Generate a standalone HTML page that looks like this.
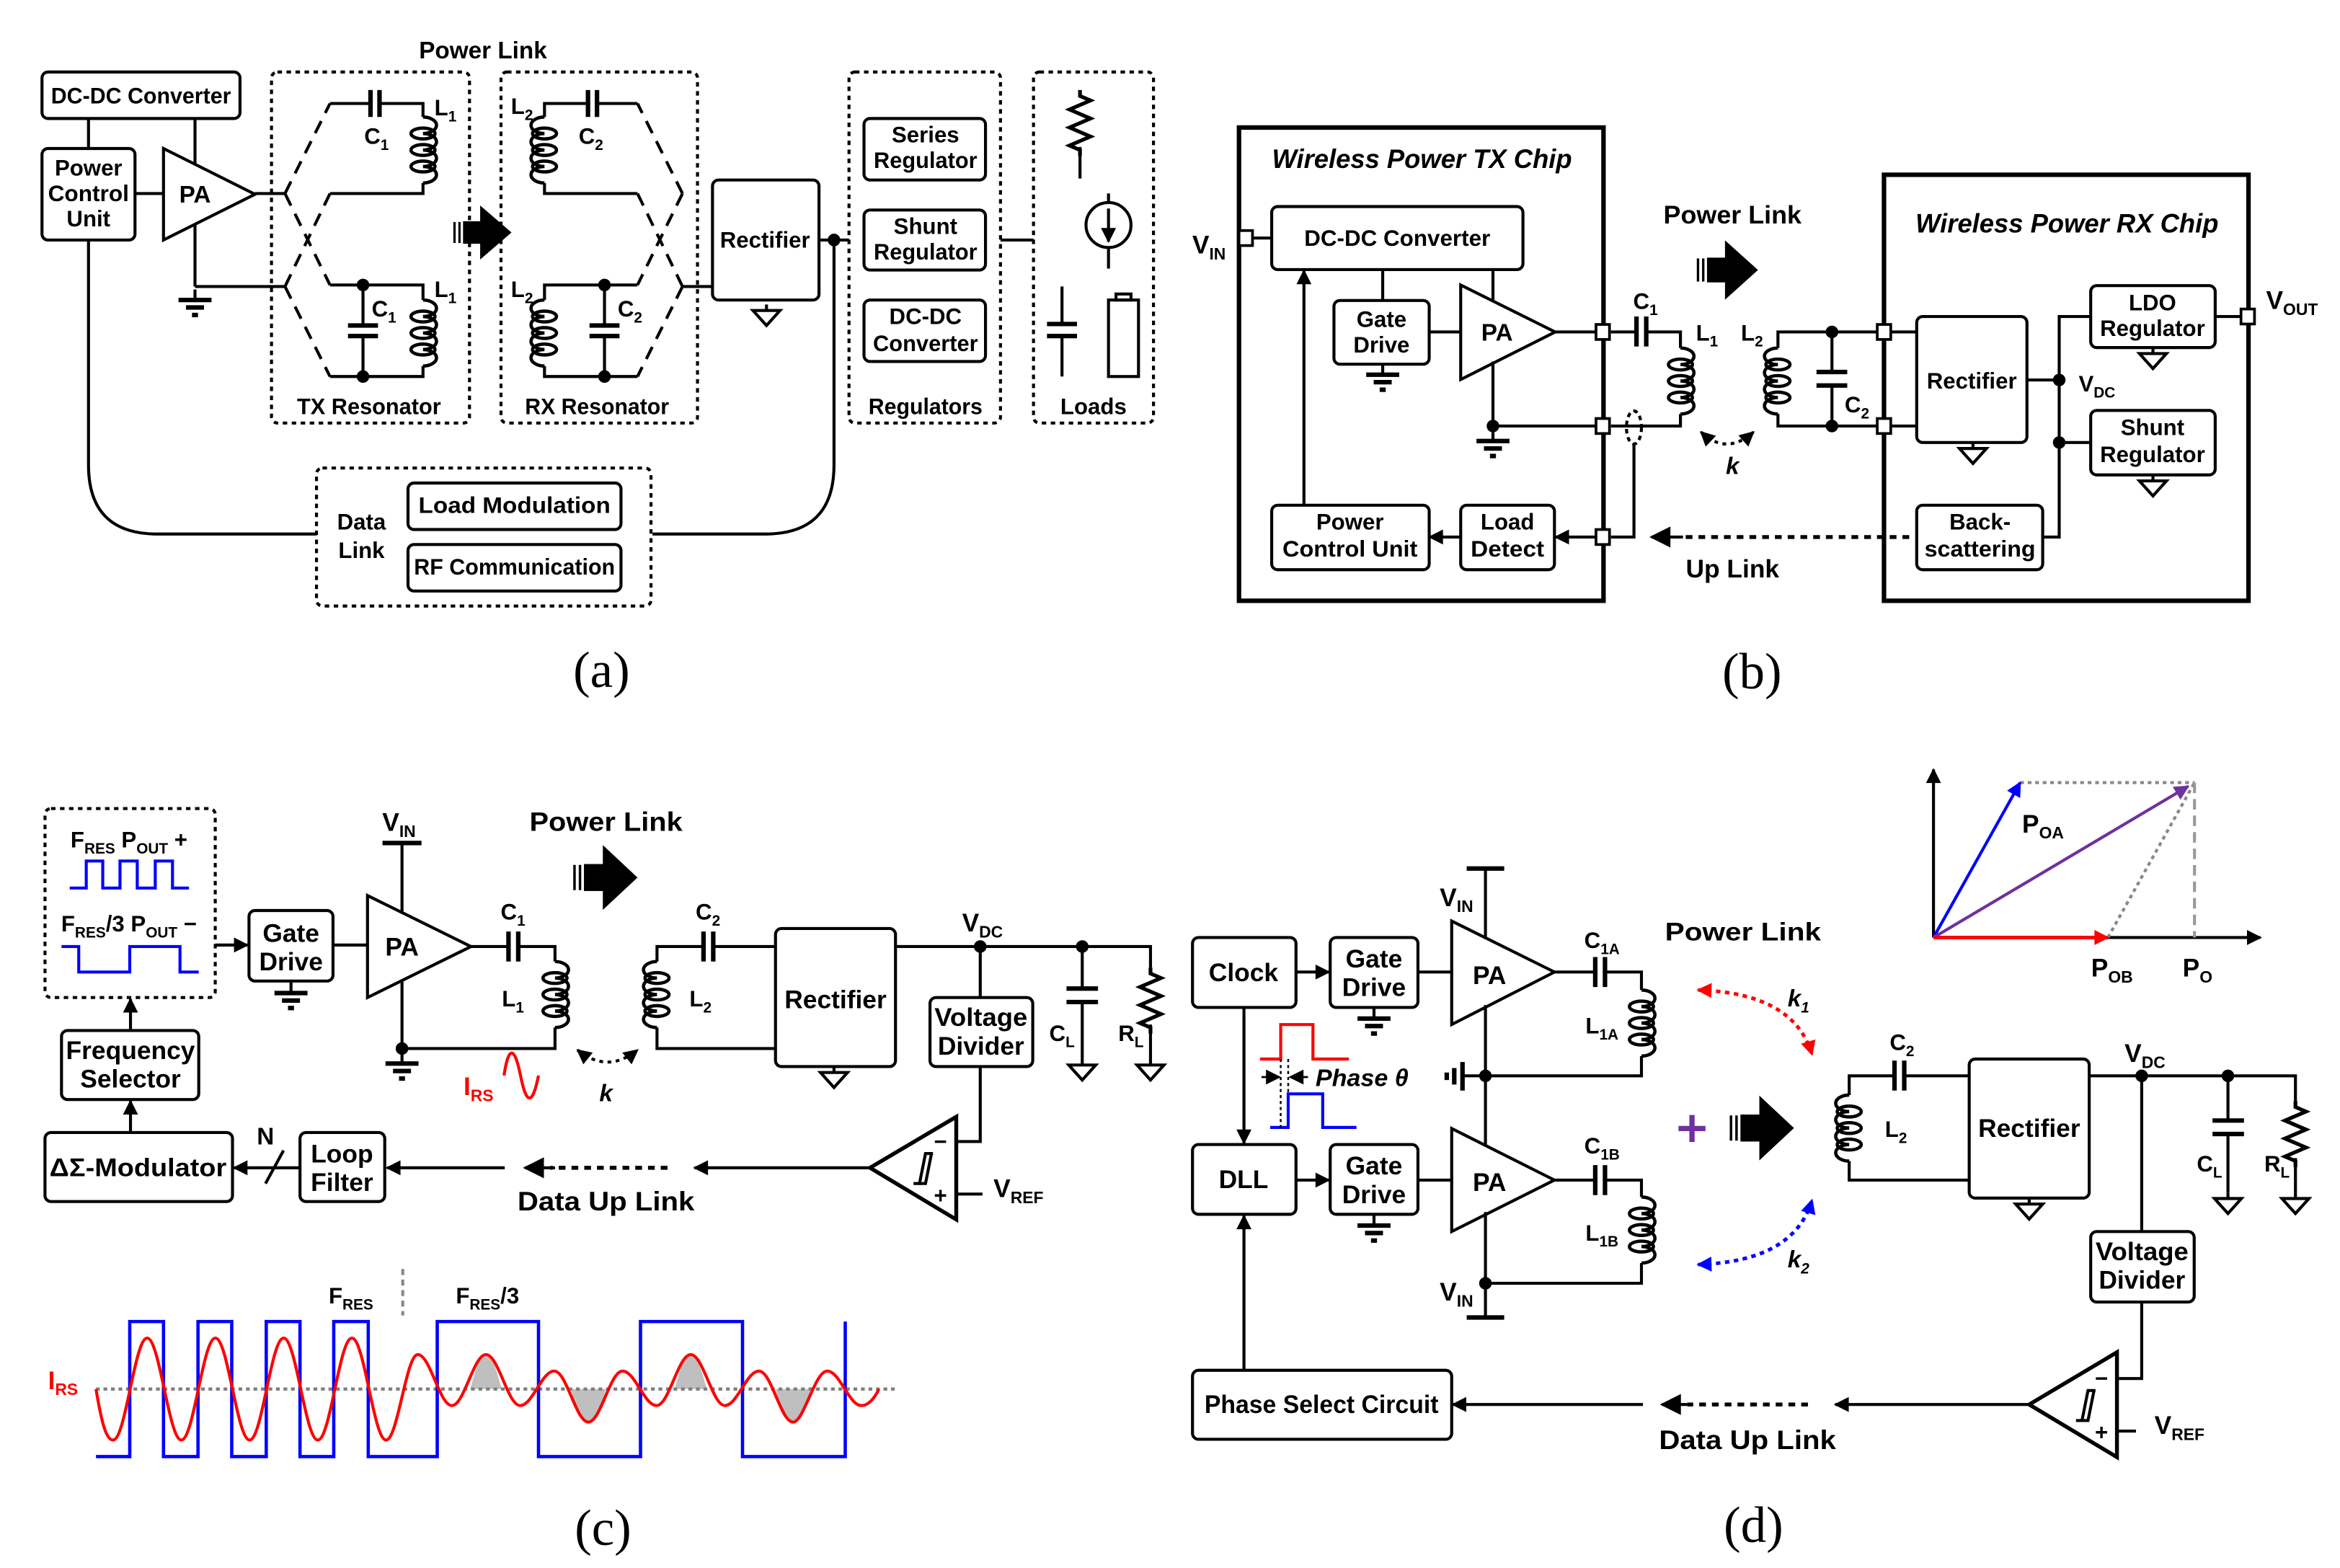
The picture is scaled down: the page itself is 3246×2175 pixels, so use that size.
<!DOCTYPE html>
<html><head><meta charset="utf-8"><style>
html,body{margin:0;padding:0;background:#fff;}
svg{display:block;}
text{font-family:"Liberation Sans",sans-serif;font-weight:bold;fill:#000;text-anchor:middle;}
.s15{font-size:15px}.s16{font-size:16px}.s17{font-size:17px}.s18{font-size:18px}
.it{font-style:italic}
.cap{font-family:"Liberation Serif",serif;font-weight:normal;font-size:34px}
</style></head><body>
<svg width="3246" height="2175" viewBox="0 0 1560 1045.3" preserveAspectRatio="none" xmlns="http://www.w3.org/2000/svg">
<defs>
<marker id="ab" viewBox="0 0 10 10" refX="9" refY="5" markerWidth="11" markerHeight="10" markerUnits="userSpaceOnUse" orient="auto-start-reverse"><path d="M0,0 L10,5 L0,10 z" fill="#000"/></marker>
<marker id="ar" viewBox="0 0 10 10" refX="9" refY="5" markerWidth="11" markerHeight="10" markerUnits="userSpaceOnUse" orient="auto-start-reverse"><path d="M0,0 L10,5 L0,10 z" fill="#f00"/></marker>
<marker id="abl" viewBox="0 0 10 10" refX="9" refY="5" markerWidth="11" markerHeight="10" markerUnits="userSpaceOnUse" orient="auto-start-reverse"><path d="M0,0 L10,5 L0,10 z" fill="#00f"/></marker>
<marker id="ap" viewBox="0 0 10 10" refX="9" refY="5" markerWidth="11" markerHeight="10" markerUnits="userSpaceOnUse" orient="auto-start-reverse"><path d="M0,0 L10,5 L0,10 z" fill="#7030a0"/></marker>
<marker id="ab2" viewBox="0 0 10 10" refX="9" refY="5" markerWidth="16" markerHeight="14" markerUnits="userSpaceOnUse" orient="auto-start-reverse"><path d="M0,0 L10,5 L0,10 z" fill="#000"/></marker>
<g id="coil" fill="none" stroke="#000" stroke-width="2.2">
<path d="M0,0 a9,5.5 0 1 1 0,11 a9,5.5 0 1 1 0,11 a9,5.5 0 1 1 0,11 a9,5.5 0 1 1 0,11"/>
<ellipse cx="0" cy="11" rx="8" ry="3.6"/><ellipse cx="0" cy="22" rx="8" ry="3.6"/><ellipse cx="0" cy="33" rx="8" ry="3.6"/>
</g>
<g id="gnd" stroke="#000" stroke-width="3"><line x1="0" y1="0" x2="0" y2="7" stroke-width="2"/><line x1="-11" y1="7" x2="11" y2="7"/><line x1="-6" y1="12" x2="6" y2="12"/><line x1="-2" y1="17" x2="2" y2="17"/></g>
<g id="tg" stroke="#000" stroke-width="2" fill="#fff"><line x1="0" y1="0" x2="0" y2="4"/><polygon points="-9,4 9,4 0,14"/></g>
<path id="res" d="M0,0 l0,4 l7,3 l-14,6 l14,6 l-14,6 l14,6 l-14,6 l7,3 l0,4" fill="none" stroke="#000" stroke-width="2.5"/>
<g id="big"><line x1="-20" y1="-7" x2="-20" y2="7" stroke="#000" stroke-width="1.6"/><line x1="-16.5" y1="-7" x2="-16.5" y2="7" stroke="#000" stroke-width="1.6"/><rect x="-14" y="-7.5" width="13" height="15" fill="#000"/><polygon points="-2,-18 20,0 -2,18" fill="#000"/></g>
<g id="hys" fill="none" stroke="#000" stroke-width="2"><path d="M-9,10 h4 l4,-20 h5"/><path d="M-5,10 h4 l4,-20"/></g>
</defs>

<g fill="none" stroke="#000" stroke-width="2">
<!-- ============ PANEL A ============ -->
<rect x="28" y="48" width="132" height="31" rx="4"/>
<rect x="28" y="99" width="62" height="61" rx="4"/>
<line x1="59" y1="79" x2="59" y2="99"/>
<line x1="130" y1="79" x2="130" y2="109"/>
<line x1="90" y1="129" x2="109" y2="129"/>
<polygon points="109,99 109,160 170,129.5" fill="#fff"/>
<line x1="130" y1="150" x2="130" y2="191"/>
<use href="#gnd" x="130" y="193"/>
<line x1="130" y1="191" x2="190" y2="191"/>
<line x1="170" y1="129" x2="190" y2="129"/>
<g id="txres">
<g stroke-dasharray="9 6"><line x1="190" y1="129" x2="220" y2="69"/><line x1="190" y1="129" x2="220" y2="190"/><line x1="190" y1="191" x2="220" y2="129"/><line x1="190" y1="191" x2="220" y2="251"/></g>
<polyline points="220,69 247,69"/><line x1="247" y1="60" x2="247" y2="78" stroke-width="3"/><line x1="253" y1="60" x2="253" y2="78" stroke-width="3"/>
<polyline points="253,69 282,69 282,78"/><use href="#coil" x="282" y="78"/><polyline points="282,122 282,129 220,129"/>
<polyline points="220,190 282,190 282,200"/><use href="#coil" x="282" y="200"/><polyline points="282,244 282,251 220,251"/>
<line x1="242" y1="190" x2="242" y2="217"/><line x1="232" y1="217" x2="252" y2="217" stroke-width="3"/><line x1="232" y1="224" x2="252" y2="224" stroke-width="3"/><line x1="242" y1="224" x2="242" y2="251"/>
<circle cx="242" cy="190" r="3.2" fill="#000"/><circle cx="242" cy="251" r="3.2" fill="#000"/>
</g>
<use href="#txres" transform="translate(645,0) scale(-1,1)"/>
<line x1="190" y1="191" x2="170" y2="191" transform="translate(645,0) scale(-1,1)"/>
<rect x="181" y="48" width="132" height="234" rx="4" stroke-dasharray="3 3"/>
<rect x="334" y="48" width="131" height="234" rx="4" stroke-dasharray="3 3"/>
<rect x="475" y="120" width="71" height="80" rx="4"/>
<use href="#tg" x="511" y="203"/>
<line x1="546" y1="160" x2="566" y2="160"/>
<circle cx="556" cy="160" r="3.2" fill="#000"/>
<path d="M556,160 V310 Q556,356 510,356 H435"/>
<path d="M59,160 V310 Q59,356 105,356 H211"/>
<rect x="211" y="312" width="223" height="92" rx="4" stroke-dasharray="3 3"/>
<rect x="272" y="322" width="142" height="31" rx="4"/>
<rect x="272" y="363" width="142" height="31" rx="4"/>
<rect x="566" y="48" width="101" height="234" rx="4" stroke-dasharray="3 3"/>
<rect x="576" y="79" width="81" height="41" rx="4"/>
<rect x="576" y="140" width="81" height="40" rx="4"/>
<rect x="576" y="200" width="81" height="41" rx="4"/>
<line x1="667" y1="160" x2="689" y2="160"/>
<rect x="689" y="48" width="80" height="234" rx="4" stroke-dasharray="3 3"/>
<use href="#res" x="720" y="60"/>
<line x1="720" y1="98" x2="720" y2="119"/>
<line x1="739" y1="129" x2="739" y2="179"/>
<circle cx="739" cy="150" r="15" fill="#fff"/>
<line x1="739" y1="139" x2="739" y2="161" marker-end="url(#ab)"/>
<line x1="708" y1="191" x2="708" y2="216"/><line x1="698" y1="216" x2="718" y2="216" stroke-width="3"/><line x1="698" y1="224" x2="718" y2="224" stroke-width="3"/><line x1="708" y1="224" x2="708" y2="251"/>
<rect x="739" y="200" width="20" height="51"/><rect x="744" y="196" width="10" height="4"/>

<!-- ============ PANEL B ============ -->
<rect x="826" y="85" width="243" height="315.5" stroke-width="3"/>
<rect x="1256" y="116.5" width="243" height="284" stroke-width="3"/>
<line x1="830" y1="158.7" x2="848" y2="158.7"/>
<rect x="847.8" y="137.7" width="167.5" height="42" rx="4"/>
<line x1="921.8" y1="179.7" x2="921.8" y2="200.3"/>
<rect x="889.3" y="200.3" width="63.5" height="42.5" rx="4"/>
<use href="#gnd" x="921.8" y="242.8"/>
<line x1="995.3" y1="179.7" x2="995.3" y2="202"/>
<line x1="952.8" y1="221.3" x2="973.8" y2="221.3"/>
<polygon points="973.8,190 973.8,253 1036.8,221.3" fill="#fff"/>
<line x1="995.3" y1="241" x2="995.3" y2="284"/>
<circle cx="995.3" cy="284" r="3.2" fill="#000"/>
<use href="#gnd" x="995.3" y="287"/>
<line x1="995.3" y1="284" x2="1064" y2="284"/>
<line x1="1036.8" y1="221.3" x2="1064" y2="221.3"/>
<line x1="1074" y1="221.3" x2="1091" y2="221.3"/>
<line x1="1091" y1="211" x2="1091" y2="231" stroke-width="3"/><line x1="1097.5" y1="211" x2="1097.5" y2="231" stroke-width="3"/>
<polyline points="1097.5,221.3 1120.3,221.3 1120.3,232"/>
<use href="#coil" x="1120.3" y="232"/>
<polyline points="1120.3,276 1120.3,284 1074,284"/>
<ellipse cx="1089.3" cy="285" rx="5" ry="11" stroke-dasharray="3 2.5"/>
<polyline points="1089.3,296 1089.3,358 1074,358"/>
<line x1="1064" y1="358" x2="1037" y2="358" marker-end="url(#ab)"/>
<rect x="973.8" y="336.8" width="62.5" height="43" rx="4"/>
<line x1="973.8" y1="358" x2="953" y2="358" marker-end="url(#ab)"/>
<rect x="847.8" y="336.8" width="105" height="43" rx="4"/>
<line x1="869.3" y1="336.8" x2="869.3" y2="180.5" marker-end="url(#ab)"/>
<rect x="826" y="153.7" width="9" height="10" fill="#fff" stroke-width="1.8"/>
<rect x="1064" y="216.3" width="9" height="10" fill="#fff" stroke-width="1.8"/>
<rect x="1064" y="279" width="9" height="10" fill="#fff" stroke-width="1.8"/>
<rect x="1064" y="353" width="9" height="10" fill="#fff" stroke-width="1.8"/>
<path d="M1134,288 Q1151,304 1169,288" stroke-dasharray="2.5 3" marker-start="url(#ab)" marker-end="url(#ab)"/>
<line x1="1272.8" y1="358" x2="1120" y2="358" stroke-width="2.6" stroke-dasharray="4.5 4"/>
<line x1="1122" y1="358" x2="1101" y2="358" marker-end="url(#ab2)"/>
<polyline points="1252,221.3 1185.3,221.3 1185.3,232"/>
<use href="#coil" transform="translate(1185.3,232) scale(-1,1)"/>
<polyline points="1185.3,276 1185.3,284 1252,284"/>
<line x1="1221.3" y1="221.3" x2="1221.3" y2="248"/><line x1="1211" y1="248" x2="1231.5" y2="248" stroke-width="3"/><line x1="1211" y1="257" x2="1231.5" y2="257" stroke-width="3"/><line x1="1221.3" y1="257" x2="1221.3" y2="284"/>
<circle cx="1221.3" cy="221.3" r="3.2" fill="#000"/><circle cx="1221.3" cy="284" r="3.2" fill="#000"/>
<line x1="1261" y1="221.3" x2="1277.8" y2="221.3"/><line x1="1261" y1="284" x2="1277.8" y2="284"/>
<rect x="1251.5" y="216.3" width="9" height="10" fill="#fff" stroke-width="1.8"/>
<rect x="1251.5" y="279" width="9" height="10" fill="#fff" stroke-width="1.8"/>
<rect x="1277.8" y="211" width="73.5" height="84" rx="4"/>
<use href="#tg" x="1315.3" y="295"/>
<line x1="1351.3" y1="253.3" x2="1372.8" y2="253.3"/>
<polyline points="1393.8,211 1372.8,211 1372.8,358 1361.8,358"/>
<circle cx="1372.8" cy="253.3" r="3.2" fill="#000"/><circle cx="1372.8" cy="295" r="3.2" fill="#000"/>
<line x1="1372.8" y1="295" x2="1393.8" y2="295"/>
<rect x="1393.8" y="190.4" width="83" height="41.3" rx="4"/>
<use href="#tg" x="1435.3" y="231.7"/>
<line x1="1476.8" y1="211" x2="1494" y2="211"/>
<rect x="1494" y="206" width="9" height="10" fill="#fff" stroke-width="1.8"/>
<rect x="1393.8" y="273.6" width="83" height="43" rx="4"/>
<use href="#tg" x="1435.3" y="316.6"/>
<rect x="1277.8" y="336.8" width="84" height="43" rx="4"/>

<!-- ============ PANEL C ============ -->
<rect x="30" y="539" width="113.5" height="126" rx="4" stroke-dasharray="3 3"/>
<path d="M46.5,592 H57.5 V574 H68.5 V592 H80 V574 H91.5 V592 H103.5 V574 H115 V592 H126" stroke="#00f"/>
<path d="M41,631 H52.5 V648 H86.5 V631 H120 V648 H132.5" stroke="#00f"/>
<line x1="143.5" y1="630" x2="165" y2="630" marker-end="url(#ab)"/>
<rect x="166" y="607" width="56" height="47" rx="4"/>
<use href="#gnd" x="194" y="655"/>
<line x1="222" y1="630" x2="245" y2="630"/>
<polygon points="245,597 245,665 314,631" fill="#fff"/>
<line x1="268" y1="562" x2="268" y2="608"/>
<line x1="255" y1="562" x2="281" y2="562" stroke-width="3"/>
<line x1="268" y1="654" x2="268" y2="699"/>
<circle cx="268" cy="699" r="3.2" fill="#000"/>
<use href="#gnd" x="268" y="702"/>
<line x1="314" y1="631" x2="339" y2="631"/>
<line x1="339" y1="621" x2="339" y2="641" stroke-width="3"/><line x1="345.5" y1="621" x2="345.5" y2="641" stroke-width="3"/>
<polyline points="345.5,631 370,631 370,641"/>
<use href="#coil" x="370" y="641"/>
<polyline points="370,685 370,699 268,699"/>
<path d="M336,717 C339,697 343,697 347,717 C351,737 355,737 359,717" stroke="#f00"/>
<path d="M385,700 Q405,716 425,700" stroke-dasharray="2.5 3" marker-start="url(#ab)" marker-end="url(#ab)"/>
<polyline points="517,631 475,631"/>
<line x1="469" y1="621" x2="469" y2="641" stroke-width="3"/><line x1="475.5" y1="621" x2="475.5" y2="641" stroke-width="3"/>
<polyline points="469,631 438,631 438,641"/>
<use href="#coil" transform="translate(438,641) scale(-1,1)"/>
<polyline points="438,685 438,699 517,699"/>
<rect x="517" y="619" width="80" height="92" rx="4"/>
<use href="#tg" x="556" y="711"/>
<polyline points="597,631 767,631 767,645"/>
<circle cx="653.5" cy="631" r="3.2" fill="#000"/><circle cx="721.5" cy="631" r="3.2" fill="#000"/>
<line x1="653.5" y1="631" x2="653.5" y2="665"/>
<rect x="620" y="665" width="68.5" height="46" rx="4"/>
<polyline points="653.5,711 653.5,761 637.5,761"/>
<line x1="721.5" y1="631" x2="721.5" y2="659"/><line x1="711" y1="659" x2="732" y2="659" stroke-width="3"/><line x1="711" y1="668" x2="732" y2="668" stroke-width="3"/><line x1="721.5" y1="668" x2="721.5" y2="706"/>
<use href="#tg" x="721.5" y="706"/>
<use href="#res" x="767" y="645"/>
<line x1="767" y1="683" x2="767" y2="706"/>
<use href="#tg" x="767" y="706"/>
<polygon points="637.5,744.5 637.5,813 580,778.5" fill="#fff" stroke-width="2.6"/>
<use href="#hys" x="618" y="779"/>
<line x1="637.5" y1="796" x2="655" y2="796"/>
<line x1="580" y1="778.5" x2="463" y2="778.5" marker-end="url(#ab)"/>
<line x1="445" y1="778.5" x2="367" y2="778.5" stroke-width="2.6" stroke-dasharray="4.5 4"/>
<line x1="370" y1="778.5" x2="350" y2="778.5" marker-end="url(#ab2)"/>
<line x1="336.5" y1="778.5" x2="258" y2="778.5" marker-end="url(#ab)"/>
<rect x="200" y="755" width="56.5" height="46" rx="4"/>
<line x1="200" y1="778.5" x2="156" y2="778.5" marker-end="url(#ab)"/>
<line x1="177" y1="789" x2="189" y2="767"/>
<rect x="30" y="755" width="125" height="46" rx="4"/>
<line x1="87" y1="755" x2="87" y2="734" marker-end="url(#ab)"/>
<rect x="41" y="687" width="91.5" height="46" rx="4"/>
<line x1="87" y1="687" x2="87" y2="666" marker-end="url(#ab)"/>
<!-- waveform -->
<line x1="268.5" y1="846" x2="268.5" y2="877" stroke="#888" stroke-dasharray="4 3"/>
<path d="M313.5,926 C318,910 320,903 324,903 C328,903 330,910 334.5,926 Z M449.8,926 C454.3,910 456.3,903 460.5,903 C464.7,903 466.7,910 471.2,926 Z M380.5,926 C385,942 388,948 392.25,948 C396.5,948 399.5,942 404,926 Z M517,926 C521.5,942 524.5,948 528.75,948 C533,948 536,942 540.5,926 Z" fill="#bfbfbf" stroke="none"/>
<line x1="64" y1="926" x2="597" y2="926" stroke="#808080" stroke-width="2.2" stroke-dasharray="2.5 2.5"/>
<path d="M64,971 H86.5 V881 H109 V971 H132 V881 H154.5 V971 H177.5 V881 H200 V971 H222.5 V881 H245.5 V971 H291.5 V881 H359 V971 H427 V881 H495 V971 H563.5 V881" stroke="#00f" stroke-width="2.2"/>
<path d="M64,926 C68,950 71,960 75.4,960 C83.7,960 89.8,892 98.1,892 C106.4,892 112.6,960 120.9,960 C129.2,960 135.3,892 143.6,892 C151.9,892 158.1,960 166.4,960 C174.7,960 180.8,892 189.1,892 C197.4,892 203.6,960 211.9,960 C220.2,960 226.3,892 234.6,892 C242.9,892 249.1,960 257.4,960 C265.1,960 270.8,903 278.5,903 C286.8,903 293,937 301.25,937 C309.5,937 315.7,903 324,903 C332.3,903 338.5,937 346.75,937 C355,937 361.2,914 369.5,914 C377.8,914 384,948 392.25,948 C400.5,948 406.7,914 415,914 C423.3,914 429.5,937 437.75,937 C446,937 452.2,903 460.5,903 C468.8,903 475,937 483.25,937 C491.5,937 497.7,914 506,914 C514.3,914 520.5,948 528.75,948 C536,948 543.2,914 551.5,914 C559.8,914 566,937 574.25,937 C579,937 583,932 586,926" stroke="#f00" stroke-width="2"/>

<!-- ============ PANEL D ============ -->
<line x1="1289" y1="625" x2="1289" y2="513" marker-end="url(#ab)"/>
<line x1="1289" y1="625" x2="1507" y2="625" marker-end="url(#ab)"/>
<line x1="1346.8" y1="521.7" x2="1463" y2="521.7" stroke="#888" stroke-dasharray="2.5 2.5"/>
<line x1="1405.3" y1="625" x2="1463" y2="521.7" stroke="#888" stroke-dasharray="2.5 2.5"/>
<line x1="1463" y1="521.7" x2="1463" y2="625" stroke="#999" stroke-dasharray="7 4"/>
<line x1="1289" y1="625" x2="1346.8" y2="521.7" stroke="#00f" marker-end="url(#abl)"/>
<line x1="1289" y1="625" x2="1458.8" y2="524.2" stroke="#7030a0" marker-end="url(#ap)"/>
<line x1="1289" y1="625" x2="1405.3" y2="625" stroke="#f00" stroke-width="2.4" marker-end="url(#ar)"/>
<rect x="795" y="625" width="69" height="46.6" rx="4"/>
<line x1="864" y1="648" x2="886" y2="648" marker-end="url(#ab)"/>
<rect x="886.8" y="625" width="58.5" height="46.6" rx="4"/>
<use href="#gnd" x="916" y="672"/>
<line x1="945.3" y1="648" x2="967.8" y2="648"/>
<polygon points="967.8,614 967.8,683 1036.3,648" fill="#fff"/>
<line x1="990.3" y1="579" x2="990.3" y2="626"/>
<line x1="977.8" y1="579" x2="1002.8" y2="579" stroke-width="3"/>
<line x1="1036.3" y1="648" x2="1063.5" y2="648"/>
<line x1="1063.5" y1="638" x2="1063.5" y2="658" stroke-width="3"/><line x1="1070" y1="638" x2="1070" y2="658" stroke-width="3"/>
<polyline points="1070,648 1094.3,648 1094.3,660"/>
<use href="#coil" x="1094.3" y="660"/>
<polyline points="1094.3,704 1094.3,717.2 990.3,717.2"/>
<circle cx="990.3" cy="717.2" r="3.2" fill="#000"/>
<line x1="975" y1="717.2" x2="990.3" y2="717.2"/>
<line x1="975" y1="708" x2="975" y2="727" stroke-width="3"/><line x1="969.5" y1="712" x2="969.5" y2="723" stroke-width="3"/><line x1="964.5" y1="715" x2="964.5" y2="720" stroke-width="3"/>
<line x1="990.3" y1="670" x2="990.3" y2="764"/>
<line x1="829.3" y1="671.6" x2="829.3" y2="762" marker-end="url(#ab)"/>
<rect x="795" y="763" width="69" height="46.5" rx="4"/>
<line x1="864" y1="786.7" x2="886" y2="786.7" marker-end="url(#ab)"/>
<rect x="886.8" y="763" width="58.5" height="46.5" rx="4"/>
<use href="#gnd" x="916" y="810"/>
<line x1="945.3" y1="786.7" x2="967.8" y2="786.7"/>
<polygon points="967.8,752.3 967.8,821 1036.3,786.7" fill="#fff"/>
<line x1="990.3" y1="808" x2="990.3" y2="878.3"/>
<line x1="977.8" y1="878.3" x2="1002.8" y2="878.3" stroke-width="3"/>
<line x1="1036.3" y1="786.7" x2="1063.5" y2="786.7"/>
<line x1="1063.5" y1="776.7" x2="1063.5" y2="796.7" stroke-width="3"/><line x1="1070" y1="776.7" x2="1070" y2="796.7" stroke-width="3"/>
<polyline points="1070,786.7 1094.3,786.7 1094.3,798"/>
<use href="#coil" x="1094.3" y="798"/>
<polyline points="1094.3,842 1094.3,855.5 990.3,855.5"/>
<circle cx="990.3" cy="855.5" r="3.2" fill="#000"/>
<line x1="829.3" y1="913.5" x2="829.3" y2="810.5" marker-end="url(#ab)"/>
<rect x="795" y="913.5" width="172.8" height="46" rx="4"/>
<path d="M840,706 H853.8 V683 H875.3 V706 H899.3" stroke="#f00"/>
<path d="M846.8,751.6 H858.8 V729.2 H881.8 V751.6 H904.3" stroke="#00f"/>
<line x1="853.8" y1="706" x2="853.8" y2="752" stroke-width="1.2" stroke-dasharray="2 2"/>
<line x1="858.8" y1="706" x2="858.8" y2="730" stroke-width="1.2" stroke-dasharray="2 2"/>
<line x1="841" y1="718" x2="853" y2="718" stroke-width="1.3" marker-end="url(#ab)"/>
<line x1="872" y1="718" x2="860" y2="718" stroke-width="1.3" marker-end="url(#ab)"/>
<path d="M1132,660 Q1196,662 1208,703" stroke="#f00" stroke-width="2.4" stroke-dasharray="3 3" marker-start="url(#ar)" marker-end="url(#ar)"/>
<path d="M1132,843 Q1196,841 1208,800" stroke="#00f" stroke-width="2.4" stroke-dasharray="3 3" marker-start="url(#abl)" marker-end="url(#abl)"/>
<line x1="1119" y1="752.3" x2="1137" y2="752.3" stroke="#7030a0" stroke-width="3.5"/>
<line x1="1128" y1="743.3" x2="1128" y2="761.3" stroke="#7030a0" stroke-width="3.5"/>
<polyline points="1312.8,717.2 1269.5,717.2"/>
<line x1="1263" y1="707" x2="1263" y2="727" stroke-width="3"/><line x1="1269.5" y1="707" x2="1269.5" y2="727" stroke-width="3"/>
<polyline points="1263,717.2 1232.8,717.2 1232.8,730"/>
<use href="#coil" transform="translate(1232.8,730) scale(-1,1)"/>
<polyline points="1232.8,774 1232.8,786.7 1312.8,786.7"/>
<rect x="1312.8" y="706" width="80" height="92.7" rx="4"/>
<use href="#tg" x="1352.8" y="798.7"/>
<polyline points="1392.8,717.2 1530.3,717.2 1530.3,734"/>
<circle cx="1427.8" cy="717.2" r="3.2" fill="#000"/><circle cx="1485.3" cy="717.2" r="3.2" fill="#000"/>
<line x1="1485.3" y1="717.2" x2="1485.3" y2="747"/><line x1="1475" y1="747" x2="1496" y2="747" stroke-width="3"/><line x1="1475" y1="756" x2="1496" y2="756" stroke-width="3"/><line x1="1485.3" y1="756" x2="1485.3" y2="795"/>
<use href="#tg" x="1485.3" y="795"/>
<use href="#res" x="1530.3" y="734"/>
<line x1="1530.3" y1="772" x2="1530.3" y2="795"/>
<use href="#tg" x="1530.3" y="795"/>
<line x1="1427.8" y1="717.2" x2="1427.8" y2="821"/>
<rect x="1393.8" y="821" width="69" height="47" rx="4"/>
<polyline points="1427.8,868 1427.8,919 1411.3,919"/>
<polygon points="1411.3,901.5 1411.3,971.4 1352.8,936.3" fill="#fff" stroke-width="2.6"/>
<use href="#hys" x="1393" y="937"/>
<line x1="1411.3" y1="954" x2="1424" y2="954"/>
<line x1="1352.8" y1="936.3" x2="1223.5" y2="936.3" marker-end="url(#ab)"/>
<line x1="1205.3" y1="936.3" x2="1125" y2="936.3" stroke-width="2.6" stroke-dasharray="4.5 4"/>
<line x1="1128" y1="936.3" x2="1108" y2="936.3" marker-end="url(#ab2)"/>
<line x1="1095.3" y1="936.3" x2="968.5" y2="936.3" marker-end="url(#ab)"/>
</g>

<!-- big arrows -->
<use href="#big" transform="translate(322,155) scale(0.95,1)"/>
<use href="#big" transform="translate(1152,180) scale(1.0,1.1)"/>
<use href="#big" transform="translate(404,585) scale(1.05,1.2)"/>
<use href="#big" transform="translate(1175,752) scale(1.05,1.2)"/>

<!-- ============ TEXT A ============ -->
<text class="s16" x="322" y="39">Power Link</text>
<text class="s15" x="94" y="69" textLength="120" lengthAdjust="spacingAndGlyphs">DC-DC Converter</text>
<text class="s15" x="59" y="117">Power</text>
<text class="s15" x="59" y="134" textLength="54" lengthAdjust="spacingAndGlyphs">Control</text>
<text class="s15" x="59" y="151">Unit</text>
<text class="s16" x="130" y="135">PA</text>
<text class="s15" x="251" y="96">C<tspan font-size="10" dy="4">1</tspan></text>
<text class="s15" x="297" y="77">L<tspan font-size="10" dy="4">1</tspan></text>
<text class="s15" x="256" y="211">C<tspan font-size="10" dy="4">1</tspan></text>
<text class="s15" x="297" y="198">L<tspan font-size="10" dy="4">1</tspan></text>
<text class="s15" x="348" y="76">L<tspan font-size="10" dy="4">2</tspan></text>
<text class="s15" x="394" y="96">C<tspan font-size="10" dy="4">2</tspan></text>
<text class="s15" x="348" y="198">L<tspan font-size="10" dy="4">2</tspan></text>
<text class="s15" x="420" y="211">C<tspan font-size="10" dy="4">2</tspan></text>
<text class="s15" x="246" y="276" textLength="96" lengthAdjust="spacingAndGlyphs">TX Resonator</text>
<text class="s15" x="398" y="276" textLength="96" lengthAdjust="spacingAndGlyphs">RX Resonator</text>
<text class="s15" x="510" y="165" textLength="60" lengthAdjust="spacingAndGlyphs">Rectifier</text>
<text class="s15" x="617" y="95">Series</text>
<text class="s15" x="617" y="112" textLength="69" lengthAdjust="spacingAndGlyphs">Regulator</text>
<text class="s15" x="617" y="156">Shunt</text>
<text class="s15" x="617" y="173" textLength="69" lengthAdjust="spacingAndGlyphs">Regulator</text>
<text class="s15" x="617" y="216">DC-DC</text>
<text class="s15" x="617" y="234" textLength="70" lengthAdjust="spacingAndGlyphs">Converter</text>
<text class="s15" x="617" y="276" textLength="76" lengthAdjust="spacingAndGlyphs">Regulators</text>
<text class="s15" x="729" y="276">Loads</text>
<text class="s15" x="241" y="353">Data</text>
<text class="s15" x="241" y="372">Link</text>
<text class="s15" x="343" y="342" textLength="128" lengthAdjust="spacingAndGlyphs">Load Modulation</text>
<text class="s15" x="343" y="383" textLength="134" lengthAdjust="spacingAndGlyphs">RF Communication</text>
<text class="cap" x="401" y="458">(a)</text>

<!-- ============ TEXT B ============ -->
<text class="s18 it" x="948" y="112" textLength="200" lengthAdjust="spacingAndGlyphs">Wireless Power TX Chip</text>
<text class="s18 it" x="1378" y="155" textLength="202" lengthAdjust="spacingAndGlyphs">Wireless Power RX Chip</text>
<text class="s17" x="806" y="169">V<tspan font-size="11" dy="4">IN</tspan></text>
<text class="s15" x="931.5" y="164" textLength="124" lengthAdjust="spacingAndGlyphs">DC-DC Converter</text>
<text class="s15" x="921" y="218">Gate</text>
<text class="s15" x="921" y="235">Drive</text>
<text class="s16" x="998" y="227">PA</text>
<text class="s15" x="900" y="353">Power</text>
<text class="s15" x="900" y="371" textLength="90" lengthAdjust="spacingAndGlyphs">Control Unit</text>
<text class="s15" x="1005" y="353">Load</text>
<text class="s15" x="1005" y="371" textLength="49" lengthAdjust="spacingAndGlyphs">Detect</text>
<text class="s15" x="1097" y="206">C<tspan font-size="10" dy="4">1</tspan></text>
<text class="s15" x="1138" y="227">L<tspan font-size="10" dy="4">1</tspan></text>
<text class="s15" x="1168" y="227">L<tspan font-size="10" dy="4">2</tspan></text>
<text class="s15" x="1238" y="275">C<tspan font-size="10" dy="4">2</tspan></text>
<text class="s17" x="1155" y="149" textLength="92" lengthAdjust="spacingAndGlyphs">Power Link</text>
<text class="s16 it" x="1155" y="316">k</text>
<text class="s17" x="1155" y="385">Up Link</text>
<text class="s15" x="1314.5" y="259" textLength="60" lengthAdjust="spacingAndGlyphs">Rectifier</text>
<text class="s15" x="1398" y="261">V<tspan font-size="10" dy="4">DC</tspan></text>
<text class="s15" x="1435" y="207">LDO</text>
<text class="s15" x="1435" y="224" textLength="70" lengthAdjust="spacingAndGlyphs">Regulator</text>
<text class="s15" x="1435" y="290">Shunt</text>
<text class="s15" x="1435" y="308" textLength="70" lengthAdjust="spacingAndGlyphs">Regulator</text>
<text class="s15" x="1320" y="353">Back-</text>
<text class="s15" x="1320" y="371" textLength="74" lengthAdjust="spacingAndGlyphs">scattering</text>
<text class="s17" x="1528" y="206">V<tspan font-size="11" dy="4">OUT</tspan></text>
<text class="cap" x="1168" y="459">(b)</text>

<!-- ============ TEXT C ============ -->
<text class="s15" x="86" y="565">F<tspan font-size="10" dy="4">RES</tspan><tspan dy="-4"> P</tspan><tspan font-size="10" dy="4">OUT</tspan><tspan dy="-4"> +</tspan></text>
<text class="s15" x="86" y="621">F<tspan font-size="10" dy="4">RES</tspan><tspan dy="-4">/3 P</tspan><tspan font-size="10" dy="4">OUT</tspan><tspan dy="-4"> −</tspan></text>
<text class="s17" x="194" y="628">Gate</text>
<text class="s17" x="194" y="647">Drive</text>
<text class="s17" x="268" y="637">PA</text>
<text class="s17" x="266" y="554">V<tspan font-size="11" dy="4">IN</tspan></text>
<text class="s18" x="404" y="554" textLength="102" lengthAdjust="spacingAndGlyphs">Power Link</text>
<text class="s15" x="342" y="613">C<tspan font-size="10" dy="4">1</tspan></text>
<text class="s15" x="342" y="671">L<tspan font-size="10" dy="4">1</tspan></text>
<text class="s15" x="472" y="613">C<tspan font-size="10" dy="4">2</tspan></text>
<text class="s15" x="467" y="671">L<tspan font-size="10" dy="4">2</tspan></text>
<text class="s17" x="319" y="730" style="fill:#f00">I<tspan font-size="11" dy="4" style="fill:#f00">RS</tspan></text>
<text class="s16 it" x="404" y="734">k</text>
<text class="s17" x="557" y="672" textLength="68" lengthAdjust="spacingAndGlyphs">Rectifier</text>
<text class="s17" x="655" y="621">V<tspan font-size="11" dy="4">DC</tspan></text>
<text class="s17" x="654" y="684" textLength="62" lengthAdjust="spacingAndGlyphs">Voltage</text>
<text class="s17" x="654" y="703">Divider</text>
<text class="s15" x="708" y="694">C<tspan font-size="10" dy="4">L</tspan></text>
<text class="s15" x="754" y="694">R<tspan font-size="10" dy="4">L</tspan></text>
<text class="s15" x="627" y="766">−</text>
<text class="s15" x="627" y="802">+</text>
<text class="s17" x="679" y="798">V<tspan font-size="11" dy="4">REF</tspan></text>
<text class="s18" x="404" y="807" textLength="118" lengthAdjust="spacingAndGlyphs">Data Up Link</text>
<text class="s17" x="228" y="775">Loop</text>
<text class="s17" x="228" y="794">Filter</text>
<text class="s16" x="177" y="763">N</text>
<text class="s17" x="92" y="784" textLength="118" lengthAdjust="spacingAndGlyphs">ΔΣ-Modulator</text>
<text class="s17" x="87" y="706" textLength="86" lengthAdjust="spacingAndGlyphs">Frequency</text>
<text class="s17" x="87" y="725">Selector</text>
<text class="s15" x="234" y="869">F<tspan font-size="10" dy="4">RES</tspan></text>
<text class="s15" x="325" y="869">F<tspan font-size="10" dy="4">RES</tspan><tspan dy="-4">/3</tspan></text>
<text class="s17" x="42" y="926" style="fill:#f00">I<tspan font-size="11" dy="4" style="fill:#f00">RS</tspan></text>
<text class="cap" x="402" y="1030">(c)</text>

<!-- ============ TEXT D ============ -->
<text class="s17" x="1362" y="555">P<tspan font-size="11" dy="4">OA</tspan></text>
<text class="s17" x="1408" y="651">P<tspan font-size="11" dy="4">OB</tspan></text>
<text class="s17" x="1465" y="651">P<tspan font-size="11" dy="4">O</tspan></text>
<text class="s17" x="829" y="654">Clock</text>
<text class="s17" x="916" y="645">Gate</text>
<text class="s17" x="916" y="664">Drive</text>
<text class="s17" x="993" y="656">PA</text>
<text class="s17" x="971" y="604">V<tspan font-size="11" dy="4">IN</tspan></text>
<text class="s15" x="1068" y="632">C<tspan font-size="10" dy="4">1A</tspan></text>
<text class="s15" x="1068" y="689">L<tspan font-size="10" dy="4">1A</tspan></text>
<text class="s17" x="1162" y="627" textLength="104" lengthAdjust="spacingAndGlyphs">Power Link</text>
<text class="s16 it" x="877" y="724" style="text-anchor:start" textLength="62" lengthAdjust="spacingAndGlyphs">Phase θ</text>
<text class="s17" x="829" y="792">DLL</text>
<text class="s17" x="916" y="783">Gate</text>
<text class="s17" x="916" y="802">Drive</text>
<text class="s17" x="993" y="794">PA</text>
<text class="s15" x="1068" y="769">C<tspan font-size="10" dy="4">1B</tspan></text>
<text class="s15" x="1068" y="827">L<tspan font-size="10" dy="4">1B</tspan></text>
<text class="s17" x="971" y="867">V<tspan font-size="11" dy="4">IN</tspan></text>
<text class="s16 it" x="1199" y="671">k<tspan font-size="10" dy="4">1</tspan></text>
<text class="s16 it" x="1199" y="845">k<tspan font-size="10" dy="4">2</tspan></text>
<text class="s17" x="881" y="942" textLength="156" lengthAdjust="spacingAndGlyphs">Phase Select Circuit</text>
<text class="s15" x="1268" y="700">C<tspan font-size="10" dy="4">2</tspan></text>
<text class="s15" x="1264" y="758">L<tspan font-size="10" dy="4">2</tspan></text>
<text class="s17" x="1352.8" y="758" textLength="68" lengthAdjust="spacingAndGlyphs">Rectifier</text>
<text class="s17" x="1430" y="708">V<tspan font-size="11" dy="4">DC</tspan></text>
<text class="s15" x="1473" y="781">C<tspan font-size="10" dy="4">L</tspan></text>
<text class="s15" x="1518" y="781">R<tspan font-size="10" dy="4">L</tspan></text>
<text class="s17" x="1428" y="840" textLength="62" lengthAdjust="spacingAndGlyphs">Voltage</text>
<text class="s17" x="1428" y="859">Divider</text>
<text class="s15" x="1401" y="924">−</text>
<text class="s15" x="1401" y="960">+</text>
<text class="s17" x="1453" y="956">V<tspan font-size="11" dy="4">REF</tspan></text>
<text class="s18" x="1165" y="966" textLength="118" lengthAdjust="spacingAndGlyphs">Data Up Link</text>
<text class="cap" x="1169" y="1028">(d)</text>
</svg>
</body></html>
